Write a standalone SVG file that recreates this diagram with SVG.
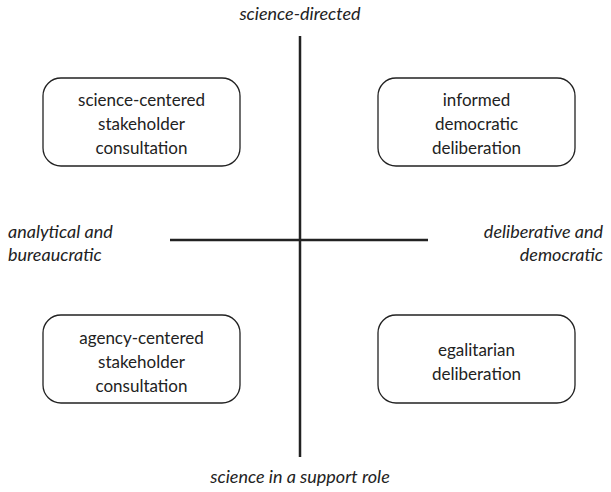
<svg xmlns="http://www.w3.org/2000/svg" width="611" height="492" viewBox="0 0 611 492">
<style>
.box{fill:#fff;stroke:#222;stroke-width:1.3}
.axis{stroke:#222;stroke-width:2.5;fill:none}
text{font-family:Lato,"Open Sans",sans-serif;font-size:17px;fill:#222}
.c{text-anchor:middle}
.i{font-style:italic;font-size:18px}
</style>
<rect width="611" height="492" fill="#fff"/>
<g id="connectors">
<line class="axis" x1="300" y1="36" x2="300" y2="457"/>
<line class="axis" x1="170" y1="240" x2="428" y2="240"/>
</g>
<g id="science-centered">
<rect class="box" x="43" y="78" width="197" height="88" rx="18"/>
<text class="c" x="141.5" y="106">science-centered</text>
<text class="c" x="141.5" y="130">stakeholder</text>
<text class="c" x="141.5" y="154">consultation</text>
</g>
<g id="informed">
<rect class="box" x="378" y="78" width="197" height="88" rx="18"/>
<text class="c" x="476.5" y="106">informed</text>
<text class="c" x="476.5" y="130">democratic</text>
<text class="c" x="476.5" y="154">deliberation</text>
</g>
<g id="agency-centered">
<rect class="box" x="43" y="315" width="197" height="88" rx="18"/>
<text class="c" x="141.5" y="344">agency-centered</text>
<text class="c" x="141.5" y="368">stakeholder</text>
<text class="c" x="141.5" y="392">consultation</text>
</g>
<g id="egalitarian">
<rect class="box" x="378" y="315" width="197" height="88" rx="18"/>
<text class="c" x="476.5" y="356">egalitarian</text>
<text class="c" x="476.5" y="380">deliberation</text>
</g>
<g id="labels">
<text class="c i" x="300" y="20">science-directed</text>
<text class="c i" x="300" y="483">science in a support role</text>
<text class="i" x="8" y="238">analytical and</text>
<text class="i" x="8" y="261">bureaucratic</text>
<text class="i" x="603" y="238" text-anchor="end">deliberative and</text>
<text class="i" x="603" y="261" text-anchor="end">democratic</text>
</g>
</svg>
